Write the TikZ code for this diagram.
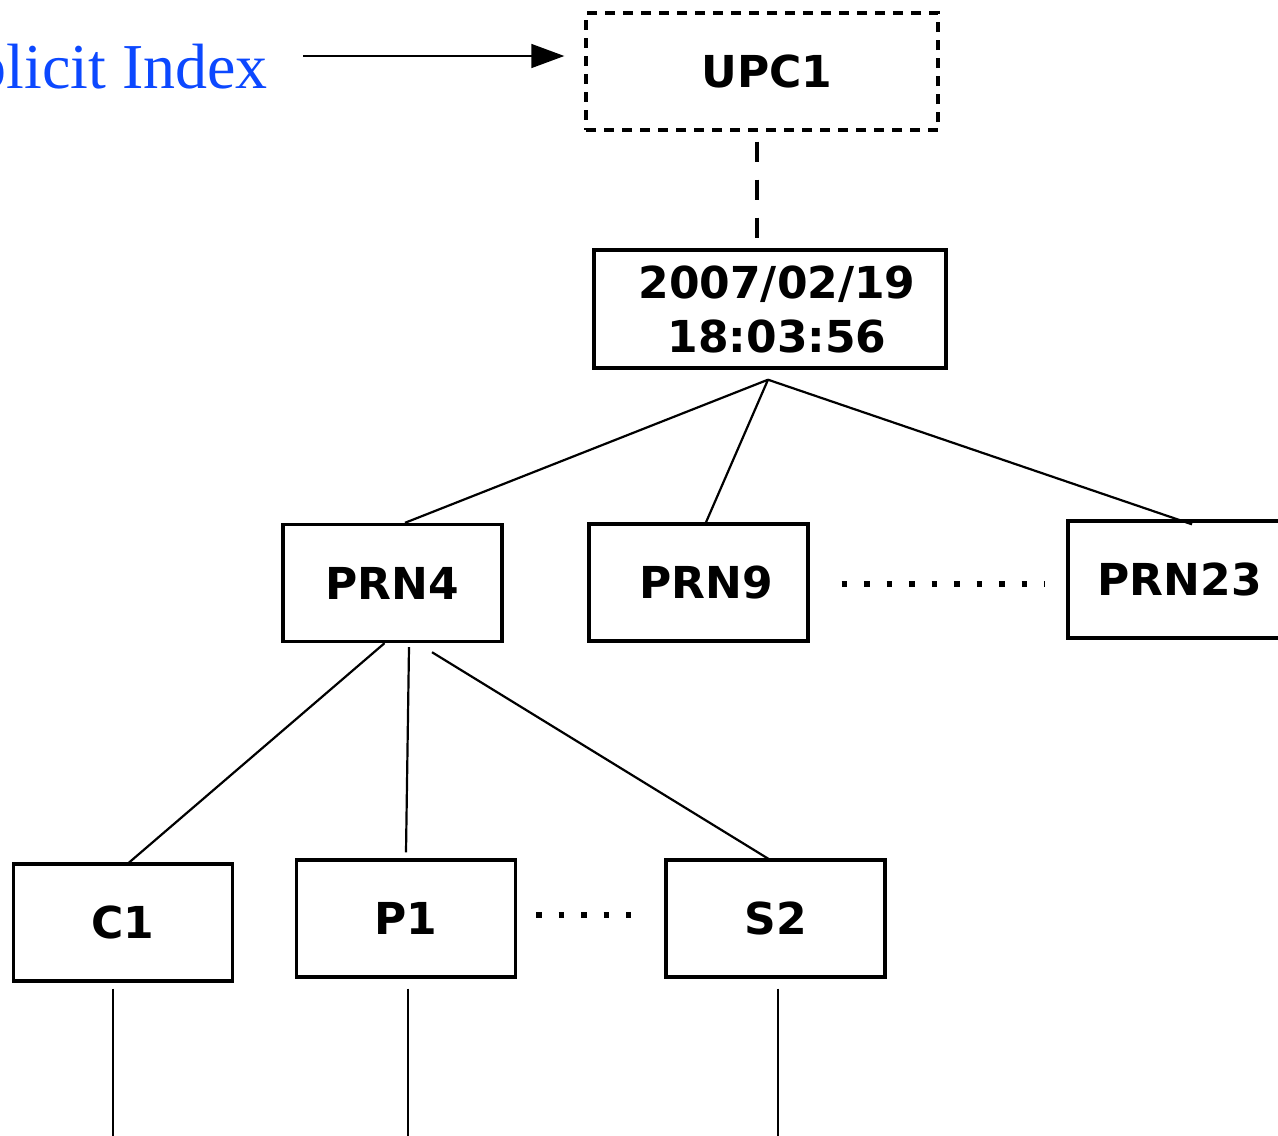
\documentclass[tikz,border=0pt]{standalone}
\usepackage{fontspec}
\setmainfont{DejaVu Sans}
\newfontfamily\serifface{Liberation Serif}
\usetikzlibrary{arrows.meta,calc}
\definecolor{idxblue}{RGB}{12,72,255}
\tikzset{
  box/.style={draw, line width=3.4pt, minimum width=219pt, minimum height=117pt,
              inner sep=0pt, font=\fontsize{44pt}{55pt}\selectfont\bfseries, align=center},
  dashbox/.style={box, dash pattern=on 10pt off 8pt, minimum width=352pt},
  link/.style={line width=2.2pt},
  leg/.style={line width=1.3pt},
  dots/.style={line width=5.5pt, dash pattern=on 5.5pt off 17pt},
}
\begin{document}
\begin{tikzpicture}[x=1pt,y=-1pt]
\useasboundingbox (0,0) rectangle (1278,1136);

% index label and its arrow
\node[anchor=base east, inner sep=0pt, text=idxblue,
      font=\serifface\fontsize{64pt}{70pt}\selectfont] (lbl) at (268,88) {Implicit Index};

% tree nodes
\node[dashbox] (upc) at (762,71.5) {\hspace{10pt}UPC1};
\node[box, minimum width=352pt, minimum height=118pt] (date) at (770,309)
  {\hspace{14pt}2007/02/19\\[-1pt]\hspace{14pt}18:03:56};
\node[box] (prn4) at (392.5,583) {PRN4};
\node[box] (prn9) at (698.5,582.5) {\hspace{16pt}PRN9};
\node[box] (prn23) at (1177.5,579.5) {\hspace{4pt}PRN23};
\node[box] (c1) at (123,922.5) {C1};
\node[box] (p1) at (406,918.5) {P1};
\node[box] (s2) at (775.5,918.5) {S2};

\draw[line width=1.6pt, -{Triangle[length=33pt,width=24pt]}]
  ($(lbl.base east)+(35,-32)$) -- ($(upc.west)+(-20,-15.5)$);

% dashed link from UPC1 to the timestamp
\draw[line width=3.2pt, dash pattern=on 20pt off 18pt]
  ($(upc.south)+(-5,10)$) -- ($(date.north)+(-13,-10)$);

% timestamp to PRN nodes
\coordinate (hub) at ($(date.south)+(-2,10)$);
\draw[link] (hub) -- ($(prn4.north)+(12.5,0)$);
\draw[link] (hub) -- ($(prn9.north)+(7.5,0)$);
\draw[link] (hub) -- ($(prn23.north)+(14.5,5)$);

% PRN4 to its children
\draw[link] ($(prn4.south)+(-8,0)$) -- ($(c1.north)+(4,2)$);
\draw[link] ($(prn4.south)+(16.5,4)$) -- ($(p1.north)+(0,-6)$);
\draw[link] ($(prn4.south)+(39.5,9)$) -- ($(s2.north)+(-5.5,1.5)$);

% ellipses between siblings
\draw[dots] ($(prn9.east)+(32,1.5)$) -- ($(prn23.west)+(-22,4.5)$);
\draw[dots] ($(p1.east)+(19,-3.5)$) -- ($(s2.west)+(-33,-3.5)$);

% continuing legs below the leaves
\coordinate (c1end) at (113,1136);
\coordinate (p1end) at (408,1136);
\coordinate (s2end) at (778,1136);
\draw[leg] ($(c1.south)+(-10,6)$) -- (c1end);
\draw[leg] ($(p1.south)+(2,10)$) -- (p1end);
\draw[leg] ($(s2.south)+(2.5,10)$) -- (s2end);
\end{tikzpicture}
\end{document}
